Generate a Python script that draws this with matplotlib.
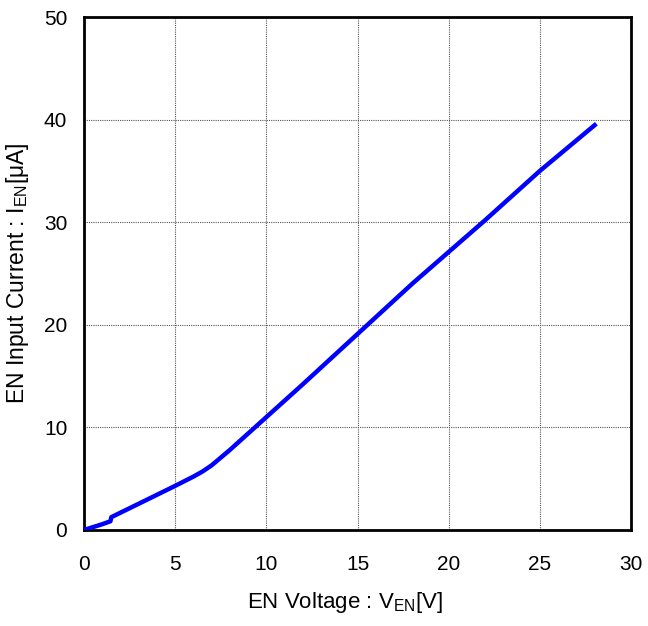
import matplotlib
matplotlib.use('Agg')
import matplotlib.pyplot as plt

plt.rcParams['font.family'] = ['Liberation Sans', 'DejaVu Sans']
plt.rcParams['mathtext.fontset'] = 'custom'
plt.rcParams['mathtext.rm'] = 'Liberation Sans'
plt.rcParams['mathtext.it'] = 'Liberation Sans'

# EN voltage [V] vs EN input current [uA]
ven = [0.0, 0.5, 1.0, 1.45, 1.5, 2.5, 3.5, 5.0, 6.0, 6.5, 7.0, 8.0, 9.0, 10.0,
       12.0, 15.0, 18.0, 20.0, 22.0, 25.0, 28.1]
ien = [0.0, 0.28, 0.56, 0.85, 1.25, 2.12, 2.99, 4.3, 5.2, 5.7, 6.3, 7.8, 9.4, 11.0,
       14.2, 19.1, 24.0, 27.1, 30.2, 35.0, 39.6]

xticks = [0, 5, 10, 15, 20, 25, 30]
yticks = [0, 10, 20, 30, 40, 50]

fig = plt.figure(figsize=(6.48, 6.26), dpi=100)
ax = fig.add_axes([0.1296, 0.1534, 0.8442, 0.8194])

ax.plot(ven, ien, color='#0000ff', lw=3.2, solid_capstyle='butt', zorder=3)

ax.set_xlim(0, 30)
ax.set_ylim(0, 50)
ax.set_xticks(xticks)
ax.set_yticks(yticks)
ax.tick_params(length=0, labelsize=15)
ax.tick_params(axis='x', pad=18)
ax.tick_params(axis='y', pad=12)
ax.grid(True, color='#555555', linestyle=(0, (1, 1)), lw=0.8)
for s in ax.spines.values():
    s.set_linewidth(2)
    s.set_color('black')

ax.set_xlabel(r'EN Voltage : V$_{\mathrm{EN}}$[V]', fontsize=16)
ax.xaxis.set_label_coords(0.478, -0.117)
ax.set_ylabel(r'EN Input Current : I$_{\mathrm{EN}}$[$\mu$A]', fontsize=16.5, labelpad=9)

fig.savefig('out.png', dpi=100)
